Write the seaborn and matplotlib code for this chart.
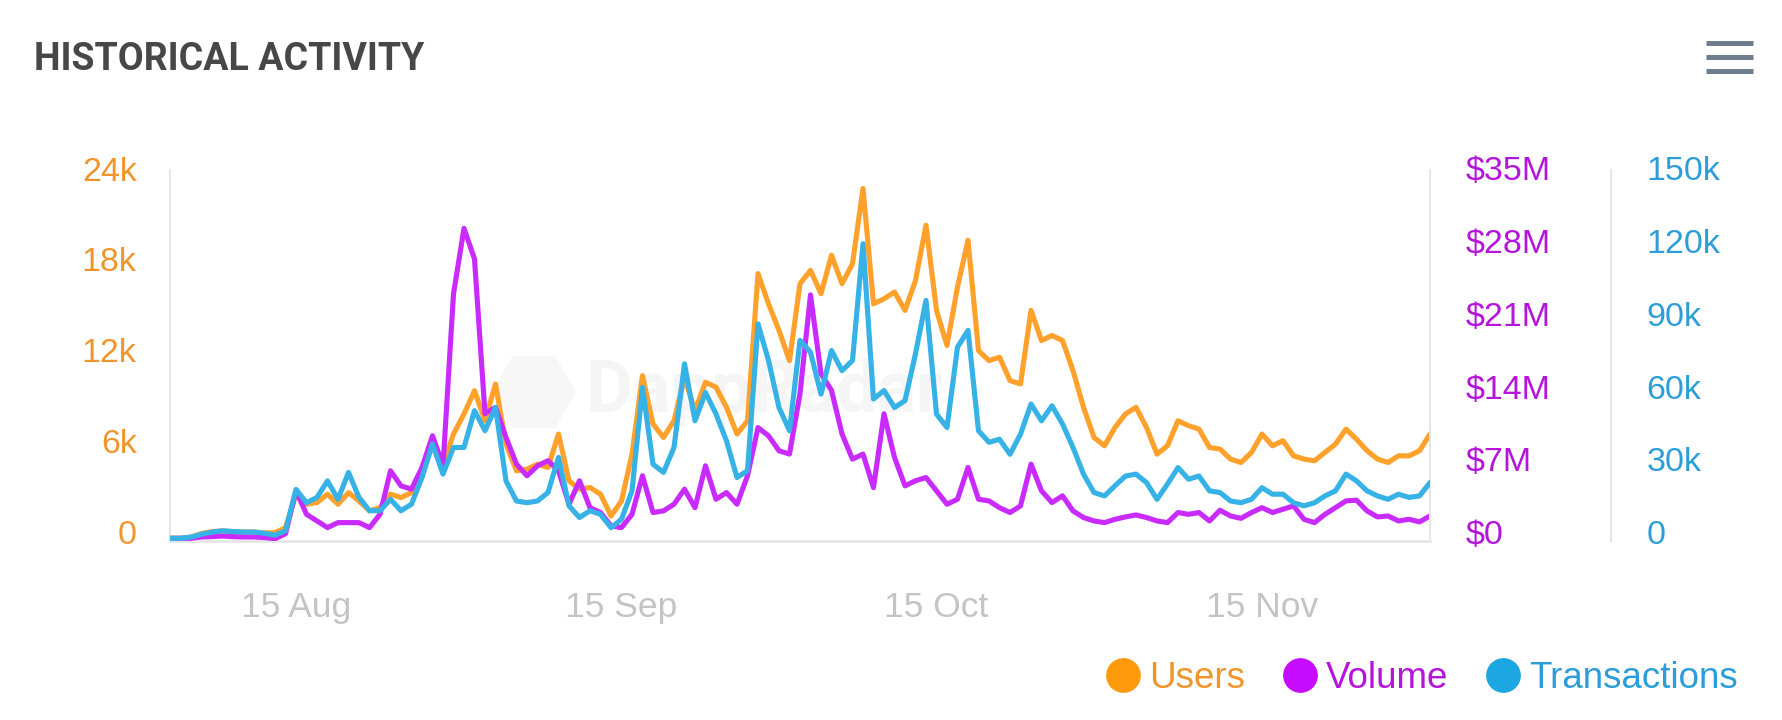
import numpy as np
import pandas as pd
import matplotlib
matplotlib.use("Agg")
import matplotlib.pyplot as plt
import matplotlib.dates as mdates
from matplotlib.lines import Line2D
from matplotlib.patches import RegularPolygon
from matplotlib.ticker import FuncFormatter, FixedLocator
from matplotlib.transforms import ScaledTranslation
import seaborn as sns

# ---------------- data (daily, 3 Aug -> 1 Dec) ----------------
start_date = "2021-08-03"
n_days = 121

users = [174, 174, 265, 490, 623, 663, 623, 592, 592, 531,
         551, 878, 3092, 2429, 2541, 3092, 2429, 3194, 2643, 1990,
         2204, 3092, 2868, 3194, 4634, 6624, 5072, 7063, 8389, 9930,
         7940, 10369, 6399, 4634, 4746, 5072, 4858, 7063, 3970, 3419,
         3531, 3092, 1653, 2643, 5736, 10920, 7726, 6838, 7940, 10808,
         8604, 10482, 10155, 8828, 7063, 7940, 17656, 15666, 13901, 11910,
         16993, 17871, 16330, 18871, 16993, 18310, 23280, 15666, 15993, 16442,
         15227, 17207, 20851, 15227, 12911, 16768, 19861, 12574, 11910, 12135,
         10594, 10369, 15227, 13237, 13574, 13237, 11257, 8828, 6838, 6287,
         7501, 8389, 8828, 7501, 5736, 6287, 7940, 7614, 7389, 6175,
         6073, 5409, 5185, 5848, 7063, 6287, 6624, 5624, 5409, 5297,
         5848, 6399, 7389, 6726, 5960, 5409, 5185, 5624, 5624, 5960,
         7063]

volume_musd = [0.26, 0.26, 0.26, 0.39, 0.42, 0.48, 0.42, 0.39, 0.39, 0.33,
               0.22, 0.70, 4.83, 2.57, 1.93, 1.29, 1.77, 1.77, 1.77, 1.29,
               2.57, 6.76, 5.31, 4.99, 7.08, 10.13, 7.24, 23.8, 30.1, 27.15,
               12.25, 12.86, 9.97, 7.40, 6.28, 7.24, 7.73, 6.76, 3.54, 5.80,
               3.21, 2.74, 1.45, 1.29, 2.57, 6.28, 2.74, 2.90, 3.54, 4.99,
               3.21, 7.24, 4.02, 4.66, 3.54, 6.28, 10.92, 10.13, 8.69, 8.37,
               14.2, 23.7, 16.1, 14.5, 10.31, 7.88, 8.37, 5.14, 12.25, 8.04,
               5.31, 5.80, 6.11, 4.83, 3.54, 4.02, 7.08, 4.02, 3.86, 3.21,
               2.74, 3.38, 7.40, 4.83, 3.70, 4.35, 2.90, 2.26, 1.93, 1.77,
               2.09, 2.32, 2.51, 2.26, 1.93, 1.77, 2.74, 2.57, 2.74, 1.93,
               2.96, 2.41, 2.18, 2.74, 3.21, 2.74, 3.06, 3.38, 2.09, 1.77,
               2.57, 3.21, 3.86, 3.93, 2.90, 2.32, 2.41, 1.93, 2.09, 1.84,
               2.41]

transactions_k = [1.1, 1.1, 1.6, 2.8, 3.7, 4.2, 3.9, 3.7, 3.7, 3.2,
                  2.4, 4.2, 21.3, 15.8, 18.0, 24.8, 17.2, 28.3, 18.0, 12.5,
                  12.5, 17.2, 12.5, 15.2, 26.2, 40.0, 27.6, 38.6, 38.6, 53.8,
                  45.5, 55.1, 24.8, 16.5, 15.8, 16.5, 20.0, 34.5, 14.5, 9.7,
                  12.5, 11.0, 5.5, 9.0, 20.7, 63.4, 31.7, 28.3, 38.6, 73.1,
                  49.6, 61.3, 52.4, 41.3, 26.2, 29.0, 89.6, 74.5, 55.1, 45.5,
                  82.8, 77.9, 60.6, 78.6, 70.3, 74.5, 122.7, 58.6, 62.1, 55.1,
                  57.9, 77.3, 99.3, 52.4, 46.8, 80.0, 86.9, 45.5, 40.7, 42.0,
                  35.8, 44.1, 56.5, 49.6, 55.8, 48.3, 38.6, 27.6, 20.0, 18.6,
                  22.8, 26.8, 27.6, 24.1, 17.2, 23.5, 30.3, 25.5, 26.8, 20.7,
                  20.0, 16.5, 15.8, 17.2, 22.0, 19.3, 19.3, 15.8, 14.5, 15.8,
                  18.6, 20.7, 27.6, 24.8, 20.7, 18.6, 17.2, 19.3, 18.0, 18.6,
                  24.1]

series_names = ["Users", "Volume", "Transactions"]
users_ticks = [0, 6000, 12000, 18000, 24000]
volume_ticks = [0, 7, 14, 21, 28, 35]
tx_ticks = [0, 30, 60, 90, 120, 150]
users_max, volume_max, tx_max = 24500, 35.72, 153.1

dates = pd.date_range(start_date, periods=n_days, freq="D")
df = pd.DataFrame({"date": dates, "Users": users,
                   "Volume": volume_musd, "Transactions": transactions_k})

# ---------------- style ----------------
sns.set_theme(style="white")
plt.rcParams["font.family"] = ["Liberation Sans", "DejaVu Sans"]

line_col = {"Users": "#FFA12B", "Volume": "#C92BFF", "Transactions": "#37B2E6"}
lab_col = {"Users": "#F0952C", "Volume": "#B514DA", "Transactions": "#2C9DD8"}
dot_col = {"Users": "#FF9A0C", "Volume": "#C60BFF", "Transactions": "#1CA7E3"}
grid_col = "#E6E6E6"

W, H = 1782, 720
fig = plt.figure(figsize=(W / 100, H / 100), dpi=100)
fig.patch.set_facecolor("white")

L, R, T, B = 170, 1430, 170, 541
ax = fig.add_axes([L / W, 1 - B / H, (R - L) / W, (B - T) / H])
ax2 = ax.twinx()
ax3 = ax.twinx()

lw = 3.7
kw = dict(linewidth=lw, solid_joinstyle="round", solid_capstyle="round")
sns.lineplot(data=df, x="date", y="Users", ax=ax, color=line_col["Users"], **kw)
sns.lineplot(data=df, x="date", y="Volume", ax=ax2, color=line_col["Volume"], **kw)
sns.lineplot(data=df, x="date", y="Transactions", ax=ax3,
             color=line_col["Transactions"], **kw)

for a in (ax, ax2, ax3):
    a.set_xlim(dates[0], dates[-1])
    a.set_xlabel("")
    a.set_ylabel("")
    a.grid(False)
    a.patch.set_visible(False)
    for s in a.spines.values():
        s.set_visible(False)

ax.set_ylim(0, users_max)
ax2.set_ylim(0, volume_max)
ax3.set_ylim(0, tx_max)

# spines
ax.spines["left"].set_visible(True)
ax.spines["left"].set_color(grid_col)
ax.spines["left"].set_linewidth(1.5)
ax.spines["bottom"].set_visible(True)
ax.spines["bottom"].set_color(grid_col)
ax.spines["bottom"].set_linewidth(2)
ax2.spines["right"].set_visible(True)
ax2.spines["right"].set_color(grid_col)
ax2.spines["right"].set_linewidth(1.5)
ax3.spines["right"].set_visible(True)
ax3.spines["right"].set_color(grid_col)
ax3.spines["right"].set_linewidth(1.5)
ax3.spines["right"].set_position(("outward", (1611 - R) * 0.72))

# y ticks
ax.yaxis.set_major_locator(FixedLocator(users_ticks))
ax.yaxis.set_major_formatter(FuncFormatter(lambda v, p: "0" if v == 0 else f"{int(v/1000)}k"))
ax.tick_params(axis="y", length=0, pad=24, labelsize=24.5, labelcolor=lab_col["Users"])

ax2.yaxis.set_major_locator(FixedLocator(volume_ticks))
ax2.yaxis.set_major_formatter(FuncFormatter(lambda v, p: f"${int(v)}" if v == 0 else f"${int(v)}M"))
ax2.tick_params(axis="y", length=0, pad=25.5, labelsize=24.5, labelcolor=lab_col["Volume"])

ax3.yaxis.set_major_locator(FixedLocator(tx_ticks))
ax3.yaxis.set_major_formatter(FuncFormatter(lambda v, p: "0" if v == 0 else f"{int(v)}k"))
ax3.tick_params(axis="y", length=0, pad=25.5, labelsize=24.5, labelcolor=lab_col["Transactions"])

# x ticks
ax.xaxis.set_major_locator(mdates.DayLocator(bymonthday=15))
ax.xaxis.set_major_formatter(mdates.DateFormatter("%d %b"))
ax.tick_params(axis="x", length=0, pad=36, labelsize=25.5, labelcolor="#C4C4C4")
for a in (ax2, ax3):
    a.tick_params(axis="x", length=0, labelbottom=False)

# y labels sit slightly above their ticks (as in the source chart)
shift = ScaledTranslation(0, 6.5 / 72, fig.dpi_scale_trans)
for a in (ax, ax2, ax3):
    for tk in a.yaxis.get_major_ticks():
        tk.label1.set_transform(tk.label1.get_transform() + shift)
        tk.label2.set_transform(tk.label2.get_transform() + shift)

# faint watermark (logo hexagon + name), behind everything
fig.add_artist(RegularPolygon((5.34, 3.28), numVertices=6, radius=0.42,
                              orientation=np.pi / 6, transform=fig.dpi_scale_trans,
                              facecolor="#F7F7F7", edgecolor="none", zorder=-1))
ax.text(0.33, 0.40, "DappRadar", transform=ax.transAxes, fontsize=52,
        fontweight="bold", color="#F5F5F5", ha="left", va="center",
        family=["Roboto", "DejaVu Sans"], zorder=0)

# title
fig.text(34 / W, 1 - 60 / H, "HISTORICAL ACTIVITY", fontsize=27, fontweight="bold",
         color="#474747", ha="left", va="center", family=["Roboto", "DejaVu Sans"])

# menu icon
for yy in (43, 57, 71):
    fig.add_artist(Line2D([1706 / W, 1753 / W], [1 - yy / H] * 2, lw=3.6,
                          color="#6F7E8C", solid_capstyle="butt"))

# legend
handles = [Line2D([], [], linestyle="none", marker="o", markersize=24,
                  markerfacecolor=dot_col[n], markeredgecolor=dot_col[n])
           for n in series_names]
leg = fig.legend(handles, series_names, loc="center right",
                 bbox_to_anchor=(1738 / W, 1 - 678 / H), ncol=3, frameon=False,
                 fontsize=26.5, handlelength=0.9, handletextpad=0.25,
                 columnspacing=1.05, borderaxespad=0, borderpad=0)
for txt, n in zip(leg.get_texts(), series_names):
    txt.set_color(lab_col[n])

fig.savefig("out.png", dpi=100, facecolor="white")
